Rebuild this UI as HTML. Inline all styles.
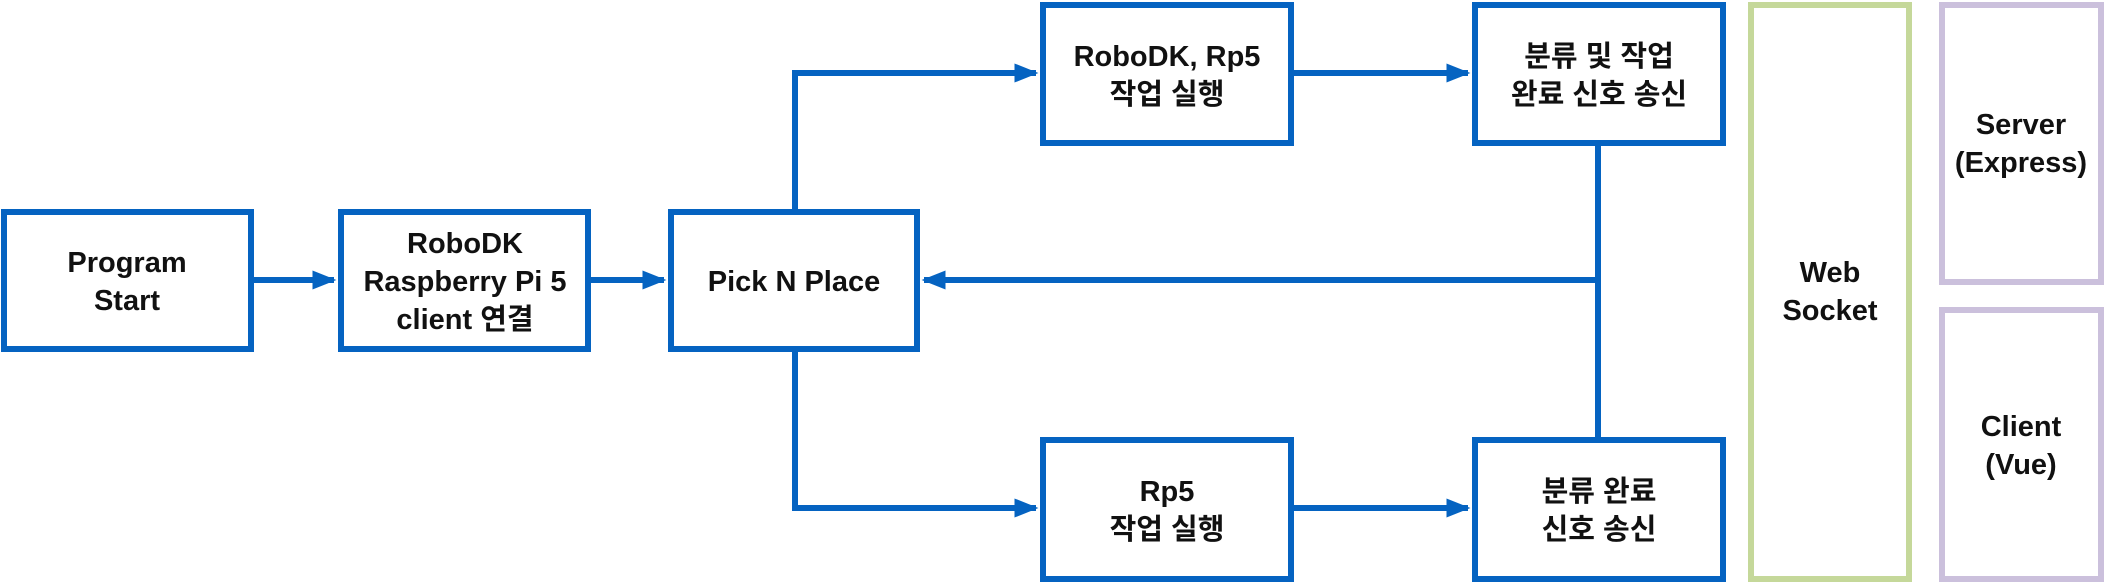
<!DOCTYPE html>
<html><head><meta charset="utf-8"><style>
html,body{margin:0;padding:0;background:#fff;}
svg{display:block}
text{font-family:"Liberation Sans","Noto Sans CJK KR",sans-serif;font-weight:bold;font-size:29px;fill:#111;text-anchor:middle}
</style></head><body>
<svg width="2111" height="583" viewBox="0 0 2111 583" xmlns="http://www.w3.org/2000/svg">
<defs><marker id="a" markerWidth="4" markerHeight="4" refX="3.6" refY="2" orient="auto" markerUnits="strokeWidth"><path d="M0,0.4 L4,2 L0,3.6 z" fill="#0563C1"/></marker></defs>
<g fill="none" stroke="#0563C1" stroke-width="6">
<line x1="254" y1="280" x2="334" y2="280" marker-end="url(#a)"/>
<line x1="591" y1="280" x2="664" y2="280" marker-end="url(#a)"/>
<polyline points="795,209 795,73 1036,73" marker-end="url(#a)"/>
<polyline points="795,352 795,508 1036,508" marker-end="url(#a)"/>
<line x1="1294" y1="73" x2="1468" y2="73" marker-end="url(#a)"/>
<line x1="1294" y1="508" x2="1468" y2="508" marker-end="url(#a)"/>
<line x1="1598" y1="146" x2="1598" y2="437"/>
<line x1="1598" y1="280" x2="924" y2="280" marker-end="url(#a)"/>
</g>
<g fill="#fff" stroke="#0563C1" stroke-width="6">
<rect x="4" y="212" width="247" height="137"/>
<rect x="341" y="212" width="247" height="137"/>
<rect x="671" y="212" width="246" height="137"/>
<rect x="1043" y="5" width="248" height="138"/>
<rect x="1475" y="5" width="248" height="138"/>
<rect x="1043" y="440" width="248" height="139"/>
<rect x="1475" y="440" width="248" height="139"/>
</g>
<rect x="1751" y="5" width="158" height="574" fill="#fff" stroke="#C5D89A" stroke-width="6"/>
<rect x="1942" y="5" width="159" height="277" fill="#fff" stroke="#CBC0DC" stroke-width="6"/>
<rect x="1942" y="310" width="159" height="269" fill="#fff" stroke="#CBC0DC" stroke-width="6"/>
<text x="127" y="272">Program</text><text x="127" y="310">Start</text>
<text x="465" y="253">RoboDK</text><text x="465" y="291">Raspberry Pi 5</text><text x="465" y="329">client 연결</text>
<text x="794" y="291">Pick N Place</text>
<text x="1167" y="66">RoboDK, Rp5</text><text x="1167" y="104">작업 실행</text>
<text x="1599" y="66">분류 및 작업</text><text x="1599" y="104">완료 신호 송신</text>
<text x="1167" y="501">Rp5</text><text x="1167" y="539">작업 실행</text>
<text x="1599" y="501">분류 완료</text><text x="1599" y="539">신호 송신</text>
<text x="1830" y="282">Web</text><text x="1830" y="320">Socket</text>
<text x="2021" y="134">Server</text><text x="2021" y="172">(Express)</text>
<text x="2021" y="436">Client</text><text x="2021" y="474">(Vue)</text>
</svg>
</body></html>
